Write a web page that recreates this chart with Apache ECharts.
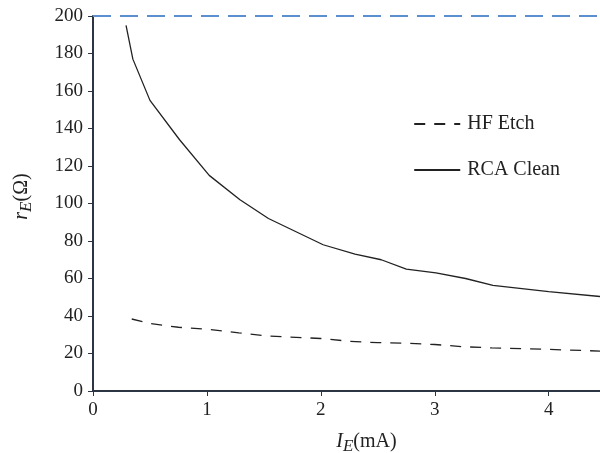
<!DOCTYPE html>
<html>
<head>
<meta charset="utf-8">
<script src="https://cdn.jsdelivr.net/npm/echarts@6/dist/echarts.min.js"></script>
<style>html,body{margin:0;padding:0;background:#fff}#c{width:600px;height:453px}</style>
</head>
<body>
<div id="c"></div>
<script>
const rcaX = [0.29, 0.35, 0.5, 0.76, 1.02, 1.29, 1.54, 2.02, 2.3, 2.53, 2.75, 3.01, 3.27, 3.51, 4.0, 4.45];
const rcaY = [195, 177, 155, 134, 115, 102, 92, 78, 73, 70, 65, 63, 60, 56.3, 53, 50.4];
const hfX = [0.34, 0.5, 0.75, 1.0, 1.28, 1.54, 2.0, 2.25, 2.5, 2.75, 3.0, 3.25, 3.5, 4.0, 4.45];
const hfY = [38.4, 36, 34, 33, 31, 29.3, 28, 26.5, 25.8, 25.5, 24.8, 23.6, 23, 22.2, 21.3];
const xTicks = [0, 1, 2, 3, 4];
const yTicks = [0, 20, 40, 60, 80, 100, 120, 140, 160, 180, 200];

const FONT = 'Liberation Serif';
const axisColor = '#2c3544';
const chart = echarts.init(document.getElementById('c'));
chart.setOption({
  animation: false,
  textStyle: { fontFamily: FONT },
  grid: { left: 93, right: 0, top: 16, bottom: 62, containLabel: false, outerBoundsMode: 'none' },
  legend: {
    right: 35, top: 109, orient: 'vertical', itemWidth: 46, itemHeight: 20, itemGap: 26,
    itemStyle: { opacity: 0, borderWidth: 0 },
    textStyle: { fontFamily: FONT, fontSize: 20, color: '#222', padding: [0, 0, 0, 2] },
    data: ['HF Etch', 'RCA Clean']
  },
  xAxis: {
    type: 'value', min: 0, max: 4.45, interval: 1,
    axisLine: { show: true, lineStyle: { color: axisColor, width: 2 } },
    axisTick: { show: true, length: 5, lineStyle: { color: axisColor } },
    splitLine: { show: false },
    axisLabel: { fontFamily: FONT, fontSize: 19, color: '#222', margin: 10, showMaxLabel: false,
      formatter: v => xTicks.includes(v) ? String(v) : '' },
    name: '{i|I}{s|E}{n|(mA)}', nameLocation: 'middle', nameGap: 38,
    nameTextStyle: { padding: [0, 0, 0, 40],
      rich: {
        i: { fontFamily: FONT, fontSize: 20, fontStyle: 'italic', color: '#222' },
        s: { fontFamily: FONT, fontSize: 17, fontStyle: 'italic', color: '#222', padding: [9, 0, 0, 0] },
        n: { fontFamily: FONT, fontSize: 20, color: '#222' }
      } }
  },
  yAxis: {
    type: 'value', min: 0, max: 200, interval: 20,
    axisLine: { show: true, lineStyle: { color: axisColor, width: 2 } },
    axisTick: { show: true, length: 5, lineStyle: { color: axisColor } },
    splitLine: { show: false },
    axisLabel: { fontFamily: FONT, fontSize: 19, color: '#222', margin: 10,
      formatter: v => yTicks.includes(v) ? String(v) : '' },
    name: '{i|r}{s|E}{n|(Ω)}', nameLocation: 'middle', nameGap: 58, nameRotate: 90,
    nameTextStyle: { padding: [0, 0, 0, 14],
      rich: {
        i: { fontFamily: FONT, fontSize: 20, fontStyle: 'italic', color: '#222' },
        s: { fontFamily: FONT, fontSize: 17, fontStyle: 'italic', color: '#222', padding: [9, 0, 0, 0] },
        n: { fontFamily: FONT, fontSize: 20, color: '#222' }
      } }
  },
  series: [
    {
      name: 'HF Etch', type: 'line', symbol: 'none', smooth: false,
      data: hfX.map((x, i) => [x, hfY[i]]),
      lineStyle: { color: '#222', width: 1.3, type: [11, 9] },
      itemStyle: { color: '#222' },
      markLine: {
        silent: true, symbol: 'none', label: { show: false },
        lineStyle: { color: '#5b8fd0', width: 2, type: [18, 9] },
        data: [{ yAxis: 200 }]
      }
    },
    {
      name: 'RCA Clean', type: 'line', symbol: 'none', smooth: false,
      data: rcaX.map((x, i) => [x, rcaY[i]]),
      lineStyle: { color: '#222', width: 1.3, type: 'solid' },
      itemStyle: { color: '#222' }
    }
  ]
});
</script>
</body>
</html>
